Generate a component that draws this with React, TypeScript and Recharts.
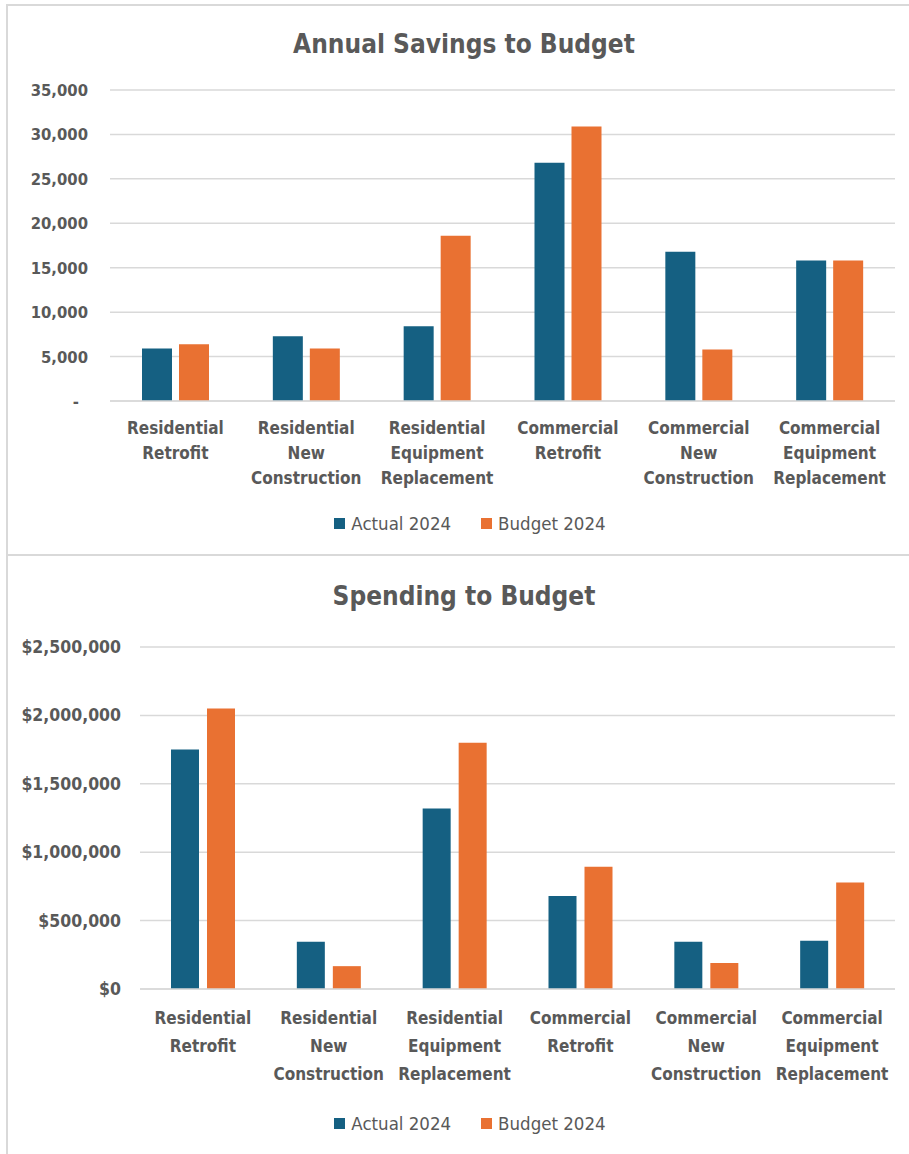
import React from 'react';
import { BarChart, Bar, XAxis, YAxis, CartesianGrid, Legend } from 'recharts';

const categories = [
  'Residential Retrofit',
  'Residential New Construction',
  'Residential Equipment Replacement',
  'Commercial Retrofit',
  'Commercial New Construction',
  'Commercial Equipment Replacement',
];

const savingsActual = [5900, 7300, 8400, 26800, 16800, 15800];
const savingsBudget = [6400, 5900, 18600, 30900, 5800, 15800];
const savingsTicks = [0, 5000, 10000, 15000, 20000, 25000, 30000, 35000];

const spendingActual = [1750000, 345000, 1320000, 680000, 345000, 352000];
const spendingBudget = [2050000, 167000, 1800000, 893000, 190000, 778000];
const spendingTicks = [0, 500000, 1000000, 1500000, 2000000, 2500000];

const seriesNames = ['Actual 2024', 'Budget 2024'];
const ACTUAL = '#156082';
const BUDGET = '#E97132';
const TEXT = '#595959';
const GRID = '#d9d9d9';
const FONT = "'DejaVu Sans Condensed', 'DejaVu Sans', sans-serif";

const savingsData = categories.map((name, i) => ({
  name,
  actual: savingsActual[i],
  budget: savingsBudget[i],
}));

const spendingData = categories.map((name, i) => ({
  name,
  actual: spendingActual[i],
  budget: spendingBudget[i],
}));

const fmtSavings = (v: number) => (v === 0 ? '-' : v.toLocaleString('en-US'));
const fmtSpending = (v: number) => '$' + v.toLocaleString('en-US');

const makeCategoryTick = (firstGap: number, lineGap: number) => (props: any) => {
  const { x, y, payload } = props;
  const words = String(payload.value).split(' ');
  return (
    <text
      x={x}
      y={y}
      textAnchor="middle"
      fill={TEXT}
      fontFamily={FONT}
      fontSize={17}
      fontWeight="bold"
      style={{ fontStretch: 'condensed' }}
    >
      {words.map((w, i) => (
        <tspan key={i} x={x} dy={i === 0 ? firstGap : lineGap}>
          {w}
        </tspan>
      ))}
    </text>
  );
};

const makeValueTick = (fmt: (v: number) => string, gap: number, size: number) => (props: any) => {
  const { x, y, payload } = props;
  const shift = payload.value === 0 && fmt === fmtSavings ? 9 : 0;
  return (
    <text
      x={x - gap - shift}
      y={y}
      dy={6}
      textAnchor="end"
      fill={TEXT}
      fontFamily={FONT}
      fontSize={size}
      fontWeight="bold"
      style={{ fontStretch: 'condensed' }}
    >
      {fmt(payload.value)}
    </text>
  );
};

const renderLegend = (props: any) => {
  const { payload } = props;
  return (
    <div style={{ display: 'flex', justifyContent: 'center', gap: 30, height: 24, alignItems: 'center', paddingLeft: 20 }}>
      {payload.map((item: any, i: number) => (
        <div key={i} style={{ display: 'flex', alignItems: 'center' }}>
          <span style={{ width: 11, height: 11, background: item.color, display: 'inline-block', marginRight: 6 }} />
          <span style={{ color: TEXT, fontFamily: FONT, fontSize: 18.5, fontStretch: 'condensed' }}>{item.value}</span>
        </div>
      ))}
    </div>
  );
};

interface PanelProps {
  title: string;
  titleTop: number;
  data: { name: string; actual: number; budget: number }[];
  ticks: number[];
  fmt: (v: number) => string;
  height: number;
  yWidth: number;
  yGap: number;
  ySize: number;
  top: number;
  xHeight: number;
  bottom: number;
  barSize: number;
  barGap: number;
  firstGap: number;
  lineGap: number;
}

const Panel: React.FC<PanelProps> = ({ title, titleTop, data, ticks, fmt, height, yWidth, yGap, ySize, top, xHeight, bottom, barSize, barGap, firstGap, lineGap }) => (
  <div style={{ position: 'relative', width: 909, height }}>
    <div
      style={{
        position: 'absolute',
        left: 19,
        width: 890,
        top: titleTop,
        textAlign: 'center',
        fontFamily: FONT,
        fontStretch: 'condensed',
        fontWeight: 'bold',
        fontSize: 26,
        lineHeight: '32px',
        color: TEXT,
      }}
    >
      {title}
    </div>
    <BarChart
      width={909}
      height={height}
      data={data}
      margin={{ top, right: 14, left: 25, bottom }}
      barSize={barSize}
      barGap={barGap}
    >
      <CartesianGrid vertical={false} stroke={GRID} strokeWidth={1.5} />
      <XAxis
        dataKey="name"
        axisLine={{ stroke: GRID, strokeWidth: 1.5 }}
        tickLine={false}
        tickSize={0}
        tickMargin={0}
        height={xHeight}
        interval={0}
        tick={makeCategoryTick(firstGap, lineGap)}
      />
      <YAxis
        width={yWidth}
        domain={[ticks[0], ticks[ticks.length - 1]]}
        ticks={ticks}
        axisLine={false}
        tickLine={false}
        tickSize={0}
        tickMargin={0}
        tick={makeValueTick(fmt, yGap, ySize)}
      />
      <Legend verticalAlign="bottom" height={24} content={renderLegend} />
      <Bar dataKey="actual" name={seriesNames[0]} fill={ACTUAL} isAnimationActive={false} />
      <Bar dataKey="budget" name={seriesNames[1]} fill={BUDGET} isAnimationActive={false} />
    </BarChart>
  </div>
);

export default function App() {
  return (
    <div style={{ position: 'relative', width: 909, height: 1154, background: '#fff', overflow: 'hidden' }}>
      <style>{`body{margin:0;background:#fff}`}</style>
      <div style={{ position: 'absolute', left: 6, top: 4, width: 903, height: 2, background: GRID }} />
      <div style={{ position: 'absolute', left: 6, top: 4, width: 2, height: 1150, background: GRID }} />
      <div style={{ position: 'absolute', left: 6, top: 554, width: 903, height: 2, background: GRID }} />
      <div style={{ position: 'absolute', left: 0, top: 0 }}>
        <Panel
          title="Annual Savings to Budget"
          titleTop={28}
          data={savingsData}
          ticks={savingsTicks}
          fmt={fmtSavings}
          height={552}
          yWidth={85}
          yGap={22}
          ySize={16.5}
          top={90}
          xHeight={110}
          bottom={17}
          barSize={30}
          barGap={7}
          firstGap={33}
          lineGap={25}
        />
      </div>
      <div style={{ position: 'absolute', left: 0, top: 556 }}>
        <Panel
          title="Spending to Budget"
          titleTop={24}
          data={spendingData}
          ticks={spendingTicks}
          fmt={fmtSpending}
          height={598}
          yWidth={115}
          yGap={19}
          ySize={17.5}
          top={91}
          xHeight={122}
          bottom={19}
          barSize={28}
          barGap={8}
          firstGap={35}
          lineGap={28}
        />
      </div>
    </div>
  );
}
